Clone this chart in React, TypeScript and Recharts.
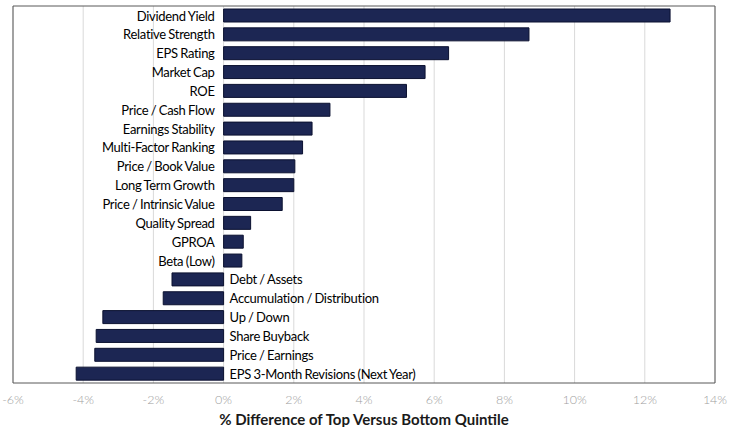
import React from "react";
import { Bar, BarChart, CartesianGrid, LabelList, ReferenceArea, XAxis, YAxis } from "recharts";

// factor names, top to bottom
const factors = [
  "Dividend Yield",
  "Relative Strength",
  "EPS Rating",
  "Market Cap",
  "ROE",
  "Price / Cash Flow",
  "Earnings Stability",
  "Multi-Factor Ranking",
  "Price / Book Value",
  "Long Term Growth",
  "Price / Intrinsic Value",
  "Quality Spread",
  "GPROA",
  "Beta (Low)",
  "Debt / Assets",
  "Accumulation / Distribution",
  "Up / Down",
  "Share Buyback",
  "Price / Earnings",
  "EPS 3-Month Revisions (Next Year)",
];

// % difference of top vs bottom quintile
const spread = [
  12.72, 8.7, 6.41, 5.74, 5.21, 3.03, 2.52, 2.25, 2.03, 2.0, 1.67, 0.77, 0.56, 0.52,
  -1.47, -1.72, -3.44, -3.63, -3.67, -4.2,
];

const xTicks = [-6, -4, -2, 0, 2, 4, 6, 8, 10, 12, 14];

const data = factors.map((name, i) => ({ name, value: spread[i] }));

const FONT = "Lato, 'Open Sans', sans-serif";

function FactorLabel(props: any) {
  const { x, y, width, height, value, index } = props;
  const left = Math.min(x, x + width);
  const right = Math.max(x, x + width);
  const neg = value < 0;
  const zero = neg ? right : left;
  return (
    <text
      x={neg ? zero + 6 : zero - 9}
      y={y + height / 2}
      dominantBaseline="central"
      textAnchor={neg ? "start" : "end"}
      fontFamily={FONT}
      fontSize={13}
      letterSpacing={-0.3}
      wordSpacing={-0.6}
      fill="#000"
    >
      {factors[index]}
    </text>
  );
}

export default function App() {
  return (
    <div style={{ position: "absolute", left: 0, top: 0, background: "#fff" }}>
      <BarChart
        width={741}
        height={427}
        data={data}
        layout="vertical"
        margin={{ top: 6, right: 26, left: 13, bottom: 0 }}
        barSize={13}
      >
        <CartesianGrid horizontal={false} stroke="#d9d9d9" />
        <XAxis
          type="number"
          domain={[-6, 14]}
          ticks={xTicks}
          axisLine={false}
          tickLine={false}
          height={44}
          tickMargin={6}
          tick={{ fill: "#a0a0a0", fontSize: 12.5, fontFamily: FONT, fontWeight: 300 }}
          tickFormatter={(v) => `${v}%`}
          label={{
            value: "% Difference of Top Versus Bottom Quintile",
            position: "insideBottom",
            offset: 2,
            style: { fontFamily: FONT, fontSize: 15, fontWeight: 700, fill: "#1a1a1a" },
          }}
        />
        <YAxis type="category" dataKey="name" hide />
        <ReferenceArea x1={-6} x2={14} fill="none" stroke="#595959" strokeWidth={1} />
        <Bar dataKey="value" fill="#1c2653" stroke="#0b1130" strokeWidth={1} isAnimationActive={false}>
          <LabelList dataKey="value" content={<FactorLabel />} />
        </Bar>
      </BarChart>
    </div>
  );
}
